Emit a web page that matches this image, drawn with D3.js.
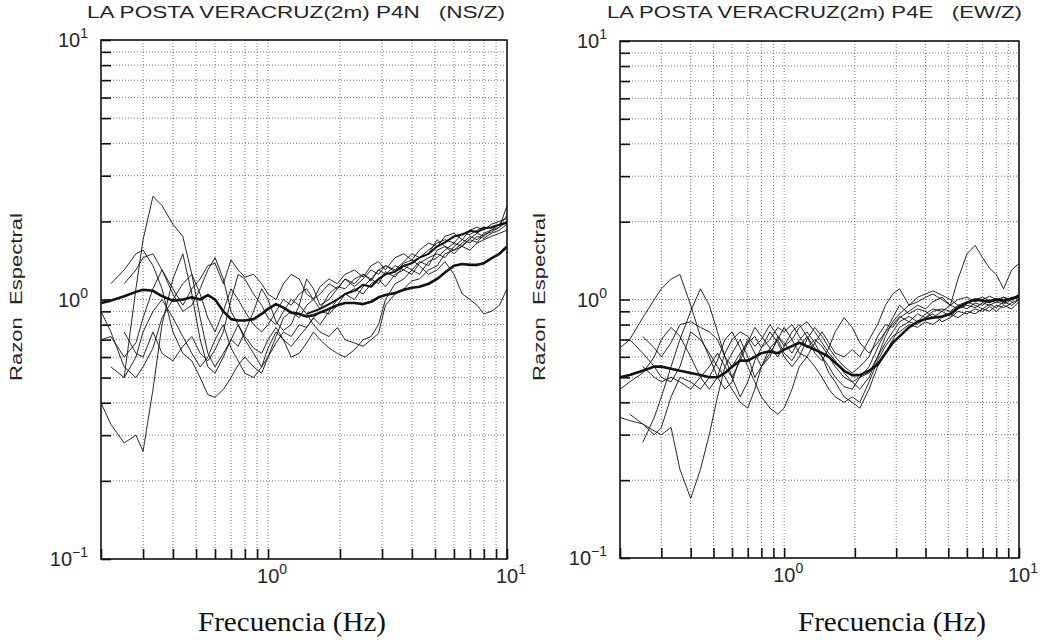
<!DOCTYPE html>
<html>
<head>
<meta charset="utf-8">
<script src="https://cdn.jsdelivr.net/npm/d3@7"></script>
<style>
body { margin:0; background:#fff; }
svg text { font-family: "Liberation Sans", "DejaVu Sans", sans-serif; fill:#262626; }
</style>
</head>
<body>
<svg id="drawing_region" width="1051" height="640"></svg>
<script>
// frequencies (Hz) shared by every curve
const freqs = [0.2,0.22,0.25,0.28,0.3,0.33,0.36,0.4,0.44,0.48, 0.52,0.56,0.6,0.65,0.7,0.75,0.8,0.87,0.94,1.0,
  1.08,1.16,1.25,1.35,1.45,1.55,1.65,1.8,1.95,2.1, 2.3,2.5,2.7,2.9,3.1,3.4,3.7,4.0,4.3,4.7,
  5.1,5.5,6.0,6.5,7.0,7.5,8.0,8.6,9.3,10.0];

// NS/Z spectral ratios
const ns_mean = [0.97,0.99,1.03,1.07,1.09,1.08,1.03,0.99,1.0,1.02, 1.0,1.04,1.0,0.9,0.84,0.83,0.83,0.84,0.88,0.92,
  0.96,0.93,0.89,0.88,0.86,0.87,0.89,0.92,0.95,0.97, 0.97,0.96,0.98,1.02,1.04,1.06,1.09,1.11,1.12,1.15,
  1.2,1.27,1.35,1.37,1.36,1.36,1.38,1.44,1.5,1.6];
const ns_upper = [null,null,null,null,null,null,null,null,null,null, null,null,null,null,null,null,null,null,null,null,
  null,null,null,null,0.88,0.9,0.92,0.96,1.0,1.05, 1.08,1.14,1.12,1.2,1.25,1.28,1.35,1.38,1.45,1.5,
  1.6,1.66,1.75,1.78,1.84,1.82,1.88,1.9,1.94,1.97];
const ns_1 = [null,null,0.5,1.1,1.7,2.5,2.3,1.95,1.75,1.25, 0.85,0.62,0.55,0.62,0.7,0.66,0.75,0.9,1.1,1.0,
  0.82,0.76,0.8,0.95,1.2,1.1,0.95,1.0,1.1,1.2, 1.15,1.25,1.2,1.3,1.25,1.35,1.3,1.4,1.45,1.5,
  1.7,1.6,1.55,1.65,1.75,1.7,1.8,1.85,1.9,2.0];
const ns_2 = [0.4,0.33,0.28,0.3,0.26,0.45,0.8,1.2,1.5,1.05, 0.7,0.55,0.52,0.6,0.7,0.8,0.72,0.65,0.62,0.7,
  0.78,0.7,0.66,0.72,0.78,0.85,0.8,0.9,1.0,1.05, 1.0,1.12,1.2,1.15,1.28,1.22,1.35,1.3,1.4,1.35,
  1.55,1.6,1.5,1.62,1.7,1.66,1.78,1.82,1.9,2.3];
const ns_3 = [null,1.15,1.3,1.5,1.55,1.35,1.1,0.75,0.62,0.58, 0.5,0.43,0.42,0.45,0.5,0.56,0.6,0.55,0.52,0.6,
  0.68,0.75,0.72,0.8,0.78,0.85,0.9,0.88,0.95,1.05, 1.1,1.05,1.15,1.2,1.12,1.25,1.3,1.25,1.38,1.45,
  1.5,1.45,1.6,1.7,1.65,1.75,1.72,1.8,1.85,1.95];
const ns_4 = [0.7,0.72,0.6,0.68,0.85,1.1,1.3,1.05,0.9,0.95, 1.1,1.3,1.45,1.2,0.9,0.8,0.7,0.62,0.55,0.6,
  0.72,0.85,0.9,0.85,0.95,1.0,0.92,1.05,1.12,1.1, 1.2,1.25,1.18,1.3,1.35,1.28,1.38,1.42,1.35,1.25,
  1.3,1.4,1.25,1.05,1.0,0.95,0.88,0.9,0.95,1.1];
const ns_5 = [null,null,0.75,0.62,0.6,0.75,0.62,0.58,0.66,0.72, 0.62,0.58,0.64,0.75,1.0,1.25,1.2,1.05,0.95,0.85,
  0.8,0.9,1.0,0.95,0.88,0.8,0.75,0.72,0.78,0.7, 0.68,0.66,0.7,0.74,0.95,1.05,1.1,1.18,1.2,1.3,
  1.35,1.5,1.55,1.6,1.55,1.65,1.7,1.75,1.8,1.85];
const ns_6 = [null,null,1.15,1.3,1.45,1.5,1.3,1.1,0.95,1.1, 1.2,1.35,1.38,1.15,1.42,1.3,1.22,1.25,1.15,1.05,
  1.0,1.15,1.25,1.2,1.05,1.0,1.12,1.2,1.15,1.25, 1.3,1.22,1.35,1.4,1.3,1.45,1.5,1.42,1.55,1.65,
  1.6,1.75,1.8,1.7,1.85,1.9,1.85,1.95,2.0,2.05];
const ns_7 = [null,0.55,0.5,0.6,0.75,0.9,1.0,0.85,0.72,0.62, 0.55,0.6,0.7,0.8,0.65,0.58,0.52,0.5,0.55,0.65,
  0.75,0.7,0.6,0.62,0.68,0.75,0.7,0.65,0.62,0.6, 0.64,0.7,0.72,0.8,1.0,1.15,1.2,1.3,1.25,1.4,
  1.45,1.55,1.65,1.6,1.72,1.8,1.75,1.85,1.95,2.0];
const ns_8 = [0.9,0.75,0.55,0.5,0.55,0.65,0.85,1.0,1.15,1.25, 1.05,0.85,0.75,0.9,1.1,1.0,0.9,0.8,0.75,0.8,
  0.9,1.0,0.95,1.05,1.1,1.0,1.05,1.15,1.1,1.2, 1.12,1.2,1.3,1.25,1.35,1.3,1.4,1.5,1.45,1.55,
  1.65,1.7,1.65,1.8,1.78,1.85,1.9,1.88,1.95,2.1];

// EW/Z spectral ratios
const ew_mean = [0.5,0.51,0.53,0.55,0.55,0.54,0.53,0.52,0.51,0.5, 0.5,0.52,0.55,0.58,0.58,0.6,0.62,0.63,0.62,0.64,
  0.66,0.68,0.66,0.64,0.62,0.6,0.57,0.53,0.51,0.51, 0.53,0.56,0.62,0.68,0.72,0.78,0.82,0.84,0.85,0.86,
  0.88,0.93,0.97,1.0,0.99,0.98,1.0,0.99,1.01,1.03];
const ew_1 = [null,0.7,0.85,1.0,1.1,1.2,1.25,0.95,0.72,0.6, 0.5,0.45,0.48,0.6,0.7,0.62,0.55,0.6,0.72,0.68,
  0.62,0.7,0.75,0.68,0.6,0.55,0.5,0.46,0.45,0.5, 0.55,0.65,0.75,0.85,0.95,0.88,0.92,0.9,0.85,0.9,
  0.95,0.92,0.98,0.95,0.92,0.96,0.93,0.98,0.95,1.0];
const ew_2 = [null,0.36,0.33,0.31,0.3,0.32,0.22,0.17,0.22,0.3, 0.42,0.55,0.62,0.7,0.6,0.5,0.55,0.65,0.7,0.62,
  0.58,0.65,0.72,0.65,0.6,0.52,0.48,0.42,0.4,0.38, 0.45,0.55,0.62,0.7,0.78,0.82,0.8,0.85,0.88,0.82,
  0.85,0.9,0.88,0.92,0.9,0.94,0.9,0.95,0.92,0.98];
const ew_3 = [0.65,0.7,0.62,0.55,0.5,0.48,0.55,0.75,0.7,0.62, 0.55,0.5,0.45,0.4,0.38,0.45,0.55,0.62,0.7,0.78,
  0.7,0.62,0.6,0.68,0.75,0.68,0.62,0.6,0.64,0.6, 0.7,0.8,0.95,1.05,1.1,0.95,0.98,1.02,1.05,1.0,
  0.95,1.2,1.5,1.62,1.45,1.32,1.25,1.1,1.3,1.38];
const ew_4 = [null,null,0.28,0.35,0.42,0.55,0.7,0.9,1.1,0.95, 0.75,0.6,0.55,0.62,0.68,0.72,0.65,0.7,0.78,0.75,
  0.8,0.72,0.65,0.7,0.66,0.6,0.55,0.5,0.48,0.5, 0.52,0.6,0.68,0.75,0.82,0.86,0.82,0.88,0.92,0.9,
  0.86,0.92,0.95,0.93,0.97,0.95,0.98,0.96,1.0,1.02];
const ew_5 = [null,null,0.72,0.65,0.6,0.68,0.8,0.82,0.78,0.75, 0.7,0.6,0.5,0.42,0.48,0.58,0.65,0.75,0.68,0.6,
  0.55,0.6,0.7,0.78,0.72,0.65,0.6,0.55,0.52,0.55, 0.6,0.72,0.8,0.78,0.85,0.9,0.95,0.92,0.98,1.02,
  0.95,1.0,1.02,0.98,1.0,1.03,1.0,1.02,1.0,1.05];
const ew_6 = [0.45,0.48,0.52,0.6,0.7,0.78,0.72,0.6,0.5,0.45, 0.5,0.62,0.7,0.75,0.72,0.66,0.7,0.8,0.72,0.66,
  0.7,0.78,0.82,0.75,0.68,0.62,0.58,0.52,0.48,0.45, 0.5,0.6,0.72,0.82,0.88,0.95,1.02,1.05,1.08,1.04,
  1.0,0.95,0.98,1.0,1.02,0.99,1.01,0.97,1.02,1.0];
const ew_7 = [0.35,0.34,0.33,0.3,0.32,0.42,0.5,0.48,0.45,0.5, 0.58,0.7,0.75,0.65,0.55,0.48,0.42,0.38,0.36,0.38,
  0.45,0.55,0.6,0.55,0.5,0.45,0.42,0.4,0.42,0.4, 0.48,0.58,0.66,0.72,0.75,0.8,0.78,0.82,0.8,0.85,
  0.88,0.85,0.9,0.88,0.92,0.9,0.95,0.93,0.97,1.0];
const ew_8 = [null,null,0.55,0.5,0.48,0.5,0.48,0.45,0.5,0.55, 0.62,0.55,0.5,0.58,0.68,0.78,0.72,0.65,0.6,0.66,
  0.75,0.8,0.72,0.62,0.58,0.65,0.75,0.85,0.78,0.68, 0.62,0.68,0.75,0.8,0.86,0.82,0.88,0.85,0.9,0.92,
  0.9,0.95,0.92,0.97,0.95,1.0,0.97,1.02,0.98,1.05];

// tick labels (exponents of 10)
const x_labels = [0, 1];
const y_labels = [1, 0, -1];

class SpectralPanel {
    constructor (config, data){
        this.config = {
            parent: config.parent,
            left: config.left,
            top: config.top,
            width: config.width,
            height: config.height,
            title: config.title,
            title_x: config.title_x,
            title_len: config.title_len,
            ylabel_x: config.ylabel_x,
            xlabel_x: config.xlabel_x,
        }
        this.data = data;
        this.init();
    }

    init() {
        let self = this;
        self.svg = d3.select(self.config.parent);
        self.chart = self.svg.append('g')
            .attr('transform', `translate(${self.config.left}, ${self.config.top})`);
    }

    update() {
        let self = this;

        self.xscale = d3.scaleLog()
            .domain([0.2, 10])
            .range([0, self.config.width]);

        self.yscale = d3.scaleLog()
            .domain([0.1, 10])
            .range([self.config.height, 0]);

        self.line = d3.line()
            .defined(d => d[1] != null)
            .x(d => self.xscale(d[0]))
            .y(d => self.yscale(d[1]));

        self.render();
    }

    render() {
        let self = this;
        const w = self.config.width, h = self.config.height;

        // dotted grid
        self.chart.append('g')
            .selectAll('line')
            .data(self.xscale.ticks().filter(t => t > 0.2 && t < 10))
            .join('line')
            .attr('x1', d => self.xscale(d)).attr('x2', d => self.xscale(d))
            .attr('y1', 0).attr('y2', h)
            .attr('stroke', '#555').attr('stroke-width', 0.8)
            .attr('stroke-dasharray', '1,2');

        self.chart.append('g')
            .selectAll('line')
            .data(self.yscale.ticks().filter(t => t > 0.1 && t < 10))
            .join('line')
            .attr('x1', 0).attr('x2', w)
            .attr('y1', d => self.yscale(d)).attr('y2', d => self.yscale(d))
            .attr('stroke', '#555').attr('stroke-width', 0.8)
            .attr('stroke-dasharray', '1,2');

        // inward ticks on left and bottom
        const yaxis = self.chart.append('g')
            .call(d3.axisLeft(self.yscale).tickSize(-10).tickFormat(''));
        const xaxis = self.chart.append('g')
            .attr('transform', `translate(0, ${h})`)
            .call(d3.axisBottom(self.xscale).tickSize(-10).tickFormat(''));
        [yaxis, xaxis].forEach(a => {
            a.select('.domain').remove();
            a.selectAll('line').attr('stroke', '#111').attr('stroke-width', 1.6);
        });

        // curves
        self.chart.append('g')
            .selectAll('path')
            .data(self.data)
            .join('path')
            .attr('d', d => self.line(freqs.map((f, i) => [f, d.values[i]])))
            .attr('fill', 'none')
            .attr('stroke', '#111')
            .attr('stroke-width', d => d.width)
            .attr('stroke-linejoin', 'round');

        // frame
        self.chart.append('rect')
            .attr('width', w).attr('height', h)
            .attr('fill', 'none').attr('stroke', '#111').attr('stroke-width', 1.6);

        // y tick labels
        const yl = self.chart.append('g')
            .selectAll('text')
            .data(y_labels)
            .join('text')
            .attr('x', -13)
            .attr('y', d => self.yscale(Math.pow(10, d)) + 7)
            .attr('text-anchor', 'end')
            .style('font-size', '20px');
        yl.append('tspan').text('10');
        yl.append('tspan').attr('dy', -9).style('font-size', '14px')
            .text(d => d < 0 ? '\u2212' + Math.abs(d) : d);

        // x tick labels
        const xl = self.chart.append('g')
            .selectAll('text')
            .data(x_labels)
            .join('text')
            .attr('x', d => self.xscale(Math.pow(10, d)) - 11)
            .attr('y', h + 24)
            .style('font-size', '20px');
        xl.append('tspan').text('10');
        xl.append('tspan').attr('dy', -9).style('font-size', '14px').text(d => d);

        // title
        self.svg.append('text')
            .attr('x', self.config.title_x)
            .attr('y', 18)
            .attr('textLength', self.config.title_len)
            .attr('lengthAdjust', 'spacingAndGlyphs')
            .style('font-size', '16px')
            .style('white-space', 'pre')
            .text(self.config.title);

        // y axis label
        self.svg.append('text')
            .attr('transform', `translate(${self.config.ylabel_x}, 297) rotate(-90)`)
            .attr('text-anchor', 'middle')
            .attr('textLength', 168)
            .attr('lengthAdjust', 'spacingAndGlyphs')
            .style('font-size', '16px')
            .style('white-space', 'pre')
            .text('Razon  Espectral');

        // x axis label
        self.svg.append('text')
            .attr('x', self.config.xlabel_x)
            .attr('y', 631)
            .attr('textLength', 188)
            .attr('lengthAdjust', 'spacingAndGlyphs')
            .style('font-family', '"Liberation Serif", "Times New Roman", serif')
            .style('font-size', '27px')
            .style('fill', '#111')
            .text('Frecuencia (Hz)');
    }
}

const ns_data = [
    {values: ns_1, width: 0.9}, {values: ns_2, width: 0.9}, {values: ns_3, width: 0.9},
    {values: ns_4, width: 0.9}, {values: ns_5, width: 0.9}, {values: ns_6, width: 0.9},
    {values: ns_7, width: 0.9}, {values: ns_8, width: 0.9},
    {values: ns_upper, width: 2.0}, {values: ns_mean, width: 2.6},
];
const ew_data = [
    {values: ew_1, width: 0.9}, {values: ew_2, width: 0.9}, {values: ew_3, width: 0.9},
    {values: ew_4, width: 0.9}, {values: ew_5, width: 0.9}, {values: ew_6, width: 0.9},
    {values: ew_7, width: 0.9}, {values: ew_8, width: 0.9},
    {values: ew_mean, width: 2.6},
];

const left = new SpectralPanel({
    parent: '#drawing_region', left: 101, top: 40, width: 406, height: 519,
    title: 'LA POSTA VERACRUZ(2m) P4N   (NS/Z)', title_x: 87, title_len: 418,
    ylabel_x: 22, xlabel_x: 198,
}, ns_data);
left.update();

const right = new SpectralPanel({
    parent: '#drawing_region', left: 620, top: 41, width: 399, height: 517,
    title: 'LA POSTA VERACRUZ(2m) P4E   (EW/Z)', title_x: 607, title_len: 415,
    ylabel_x: 545, xlabel_x: 798,
}, ew_data);
right.update();
</script>
</body>
</html>
